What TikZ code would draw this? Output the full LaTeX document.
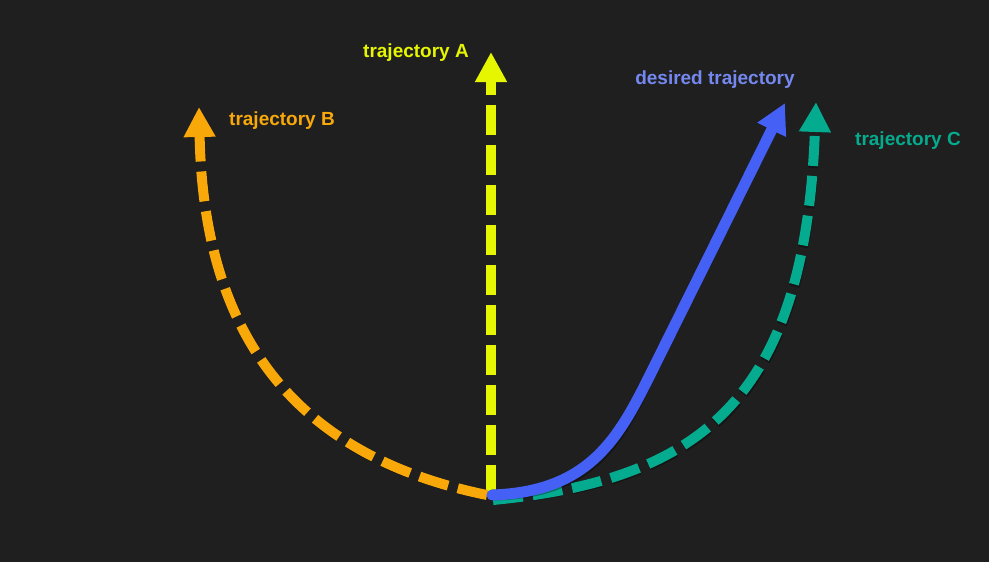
\documentclass[tikz,border=0pt]{standalone}
\usepackage{fontspec}
\setmainfont{Liberation Sans}
\usetikzlibrary{arrows.meta}
\definecolor{bg}{HTML}{1F1F1F}
\definecolor{trA}{HTML}{E6F500}
\definecolor{trB}{HTML}{F9A80A}
\definecolor{trC}{HTML}{05AB8E}
\definecolor{trD}{HTML}{4560F5}
\definecolor{trDlabel}{HTML}{7488F0}
\tikzset{
  traj/.style={line width=10pt, -{Triangle[width=30pt,length=30pt]}, dash pattern=on 30pt off 10pt},
  shade/.style={black, opacity=0.3, shift={(1.5,2.5)}},
  lbl/.style={font=\bfseries\fontsize{19pt}{22pt}\selectfont, inner sep=0pt},
}
\begin{document}
\begin{tikzpicture}[x=1pt,y=-1pt]
\fill[bg] (0,0) rectangle (989,562);
\useasboundingbox (0,0) rectangle (989,562);
\coordinate (oA) at (491,495);
\coordinate (tA) at (491,52);
\coordinate (oB) at (487,495);
\coordinate (tB) at (199,107);
\coordinate (oC) at (493,500);
\coordinate (tC) at (816,102);
\coordinate (oD) at (492,495);
\coordinate (mD) at (650,375);
\coordinate (tD) at (785,103);
% trajectory A
\draw[traj, shade] (oA) -- (tA);
\draw[traj, trA] (oA) -- (tA);
% trajectory B
\draw[traj, shade] (oB) .. controls (265,450) and (203,300) .. (tB);
\draw[traj, trB] (oB) .. controls (265,450) and (203,300) .. (tB);
% trajectory C
\draw[traj, shade] (oC) .. controls (700,480) and (805,400) .. (tC);
\draw[traj, trC] (oC) .. controls (700,480) and (805,400) .. (tC);
% desired
\draw[line width=11pt, shade, line cap=round, -{Triangle[width=30pt,length=30pt]}]
  (oD) .. controls (590,492) and (619,437) .. (mD) -- (tD);
\draw[line width=11pt, trD, line cap=round, -{Triangle[width=30pt,length=30pt]}]
  (oD) .. controls (590,492) and (619,437) .. (mD) -- (tD);
\node[lbl, text=trA] (lA) at (416,53) {trajectory A};
\node[lbl, text=trB] (lB) at (282,121) {trajectory B};
\node[lbl, text=trDlabel] (lD) at (715,80) {desired trajectory};
\node[lbl, text=trC] (lC) at (908,141) {trajectory C};
\end{tikzpicture}
\end{document}
